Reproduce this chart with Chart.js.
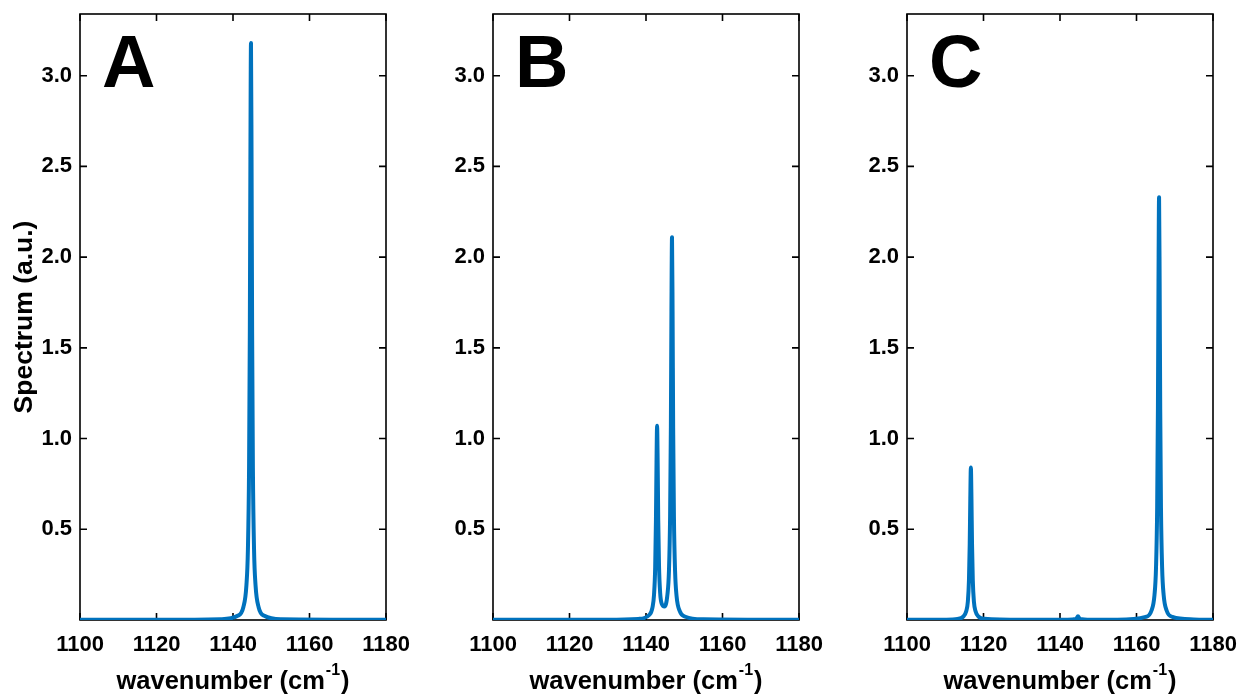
<!DOCTYPE html>
<html>
<head>
<meta charset="utf-8">
<script src="https://cdn.jsdelivr.net/npm/chart.js@4.4.1/dist/chart.umd.min.js"></script>
<style>
    html, body { margin: 0; padding: 0; background: #ffffff; }
    #wrap { position: relative; width: 1242px; height: 694px; overflow: hidden; }
    .panel { position: absolute; top: 0; width: 415px; height: 694px; }
</style>
</head>
<body>
<div id="wrap">
    <div class="panel" style="left:0px"><canvas id="chartA"></canvas></div>
    <div class="panel" style="left:413px"><canvas id="chartB"></canvas></div>
    <div class="panel" style="left:827px"><canvas id="chartC"></canvas></div>
</div>
<script>
// Axis settings
const xTicks = [1100, 1120, 1140, 1160, 1180];
const yTicks = [0.5, 1.0, 1.5, 2.0, 2.5, 3.0];
const yMax = 3.34;

// Panel A: single line near 1144.7
const waveA = [1100, 1130, 1136.7, 1141.2, 1142.7, 1143.5, 1143.9, 1144.2, 1144.4, 1144.55, 1144.7, 1144.85, 1145.0, 1145.2, 1145.5, 1145.9, 1146.7, 1148.2, 1152.7, 1180];
const specA = [0.001, 0.002, 0.004, 0.023, 0.07, 0.19, 0.39, 0.84, 1.59, 2.54, 3.18, 2.54, 1.59, 0.84, 0.39, 0.19, 0.07, 0.023, 0.004, 0.001];

// Panel B: doublet at 1142.9 / 1146.8
const waveB = [1100, 1130, 1138, 1140.9, 1141.7, 1142.1, 1142.4, 1142.6, 1142.75, 1142.9, 1143.05, 1143.2, 1143.4, 1143.7, 1144.1, 1144.85, 1145.6, 1146.0, 1146.3, 1146.5, 1146.65, 1146.8, 1146.95, 1147.1, 1147.3, 1147.6, 1148.0, 1148.8, 1150.3, 1155, 1180];
const specB = [0.001, 0.002, 0.006, 0.029, 0.07, 0.14, 0.29, 0.55, 0.87, 1.07, 0.87, 0.55, 0.30, 0.15, 0.09, 0.074, 0.14, 0.27, 0.57, 1.06, 1.70, 2.11, 1.70, 1.06, 0.57, 0.27, 0.13, 0.05, 0.018, 0.004, 0.001];

// Panel C: split lines at 1116.7 / 1165.9 with a trace at 1144.7
const waveC = [1100, 1110, 1113.2, 1114.7, 1115.5, 1115.9, 1116.2, 1116.4, 1116.55, 1116.7, 1116.85, 1117.0, 1117.2, 1117.5, 1117.9, 1118.7, 1120.2, 1130, 1142, 1144.2, 1144.7, 1145.2, 1148, 1155, 1162.4, 1163.9, 1164.7, 1165.1, 1165.4, 1165.6, 1165.75, 1165.9, 1166.05, 1166.2, 1166.4, 1166.7, 1167.1, 1167.9, 1169.4, 1175, 1180];
const specC = [0.001, 0.002, 0.006, 0.019, 0.05, 0.10, 0.22, 0.42, 0.67, 0.84, 0.67, 0.42, 0.22, 0.10, 0.05, 0.019, 0.007, 0.001, 0.001, 0.006, 0.02, 0.006, 0.002, 0.002, 0.017, 0.051, 0.137, 0.287, 0.617, 1.165, 1.864, 2.33, 1.864, 1.165, 0.617, 0.287, 0.137, 0.051, 0.017, 0.003, 0.001];

const lineColor = '#0072BD';
const fontFamily = '"Liberation Sans", Arial, Helvetica, sans-serif';

// frame, inward ticks on all four sides, panel letter and axis titles
const framePlugin = {
    id: 'frame',
    beforeDatasetsDraw(chart, args, opts) {
        const ctx = chart.ctx;
        const a = chart.chartArea;
        const xs = chart.scales.x;
        const ys = chart.scales.y;
        const len = 7;
        ctx.save();
        ctx.strokeStyle = '#000000';
        ctx.lineWidth = 1.6;
        ctx.strokeRect(a.left, a.top, a.right - a.left, a.bottom - a.top);
        ctx.beginPath();
        xTicks.forEach(function (v) {
            const px = xs.getPixelForValue(v);
            ctx.moveTo(px, a.bottom); ctx.lineTo(px, a.bottom - len);
            ctx.moveTo(px, a.top); ctx.lineTo(px, a.top + len);
        });
        yTicks.forEach(function (v) {
            const py = ys.getPixelForValue(v);
            ctx.moveTo(a.left, py); ctx.lineTo(a.left + len, py);
            ctx.moveTo(a.right, py); ctx.lineTo(a.right - len, py);
        });
        ctx.stroke();
        ctx.restore();
    },
    afterDraw(chart, args, opts) {
        const ctx = chart.ctx;
        const a = chart.chartArea;
        ctx.save();
        ctx.fillStyle = '#000000';

        // panel letter
        ctx.font = 'bold 74px ' + fontFamily;
        ctx.textAlign = 'left';
        ctx.textBaseline = 'alphabetic';
        ctx.fillText(opts.letter, a.left + 22, a.top + 73);

        // x title with superscript
        const big = 'bold 25.5px ' + fontFamily;
        const small = 'bold 16px ' + fontFamily;
        const main = 'wavenumber (cm';
        const sup = '-1';
        ctx.font = big;
        const wMain = ctx.measureText(main).width;
        const wClose = ctx.measureText(')').width;
        ctx.font = small;
        const wSup = ctx.measureText(sup).width + 2;
        let x = (a.left + a.right) / 2 - (wMain + wSup + wClose) / 2;
        const base = 689;
        ctx.font = big;
        ctx.fillText(main, x, base);
        x += wMain;
        ctx.font = small;
        ctx.fillText(sup, x + 1, base - 14);
        x += wSup;
        ctx.font = big;
        ctx.fillText(')', x, base);

        // y title only on the first panel
        if (opts.yTitle) {
            ctx.translate(25, (a.top + a.bottom) / 2);
            ctx.rotate(-Math.PI / 2);
            ctx.textAlign = 'center';
            ctx.textBaseline = 'middle';
            ctx.font = 'bold 26.5px ' + fontFamily;
            ctx.fillText(opts.yTitle, 0, 0);
        }
        ctx.restore();
    }
};

function makePoints(xs, ys) {
    return xs.map(function (v, i) { return { x: v, y: ys[i] }; });
}

function createSpectrumChart(canvasId, waves, spec, letter, yTitle) {
    const ctx = document.getElementById(canvasId).getContext('2d');
    new Chart(ctx, {
        type: 'line',
        data: {
            datasets: [{
                data: makePoints(waves, spec),
                borderColor: lineColor,
                borderWidth: 4,
                borderJoinStyle: 'round',
                borderCapStyle: 'round',
                pointRadius: 0,
                cubicInterpolationMode: 'monotone',  // smooth peaks, avoids fast-path pixel merging
                fill: false
            }]
        },
        options: {
            responsive: true,
            maintainAspectRatio: false,
            animation: false,
            layout: { padding: { top: 14, right: 29, left: 0, bottom: 0 } },
            plugins: {
                legend: { display: false },
                tooltip: { enabled: false },
                frame: { letter: letter, yTitle: yTitle }
            },
            scales: {
                x: {
                    type: 'linear',
                    min: 1100,
                    max: 1180,
                    afterBuildTicks: function (s) { s.ticks = xTicks.map(function (v) { return { value: v }; }); },
                    afterFit: function (s) {
                        s.height = 74;
                        s.paddingLeft = 0; s.paddingRight = 0;
                    },
                    grid: { display: false, drawTicks: false },
                    border: { display: false },
                    ticks: {
                        padding: 12,
                        color: '#000000',
                        font: { family: fontFamily, size: 22, weight: 'bold' },
                        maxRotation: 0,
                        callback: function (v) { return String(v); }
                    }
                },
                y: {
                    type: 'linear',
                    min: 0,
                    max: yMax,
                    afterBuildTicks: function (s) { s.ticks = yTicks.map(function (v) { return { value: v }; }); },
                    afterFit: function (s) {
                        s.width = 80;
                        s.paddingTop = 0; s.paddingBottom = 0;
                    },
                    grid: { display: false, drawTicks: false },
                    border: { display: false },
                    ticks: {
                        padding: 8,
                        color: '#000000',
                        font: { family: fontFamily, size: 22, weight: 'bold' },
                        callback: function (v) { return Number(v).toFixed(1); }
                    }
                }
            }
        },
        plugins: [framePlugin]
    });
}

createSpectrumChart('chartA', waveA, specA, 'A', 'Spectrum (a.u.)');
createSpectrumChart('chartB', waveB, specB, 'B', null);
createSpectrumChart('chartC', waveC, specC, 'C', null);
</script>
</body>
</html>
